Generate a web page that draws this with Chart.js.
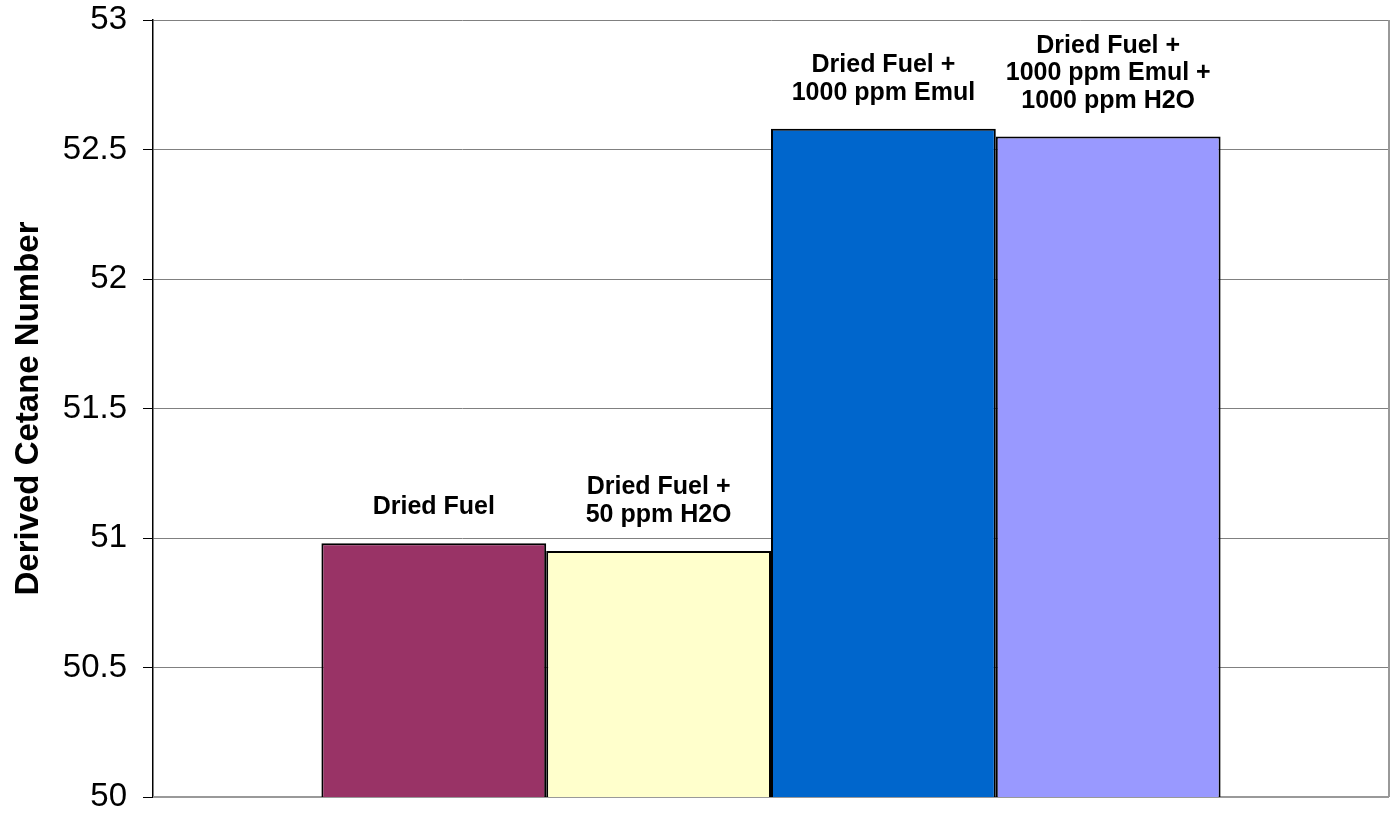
<!DOCTYPE html>
<html>
<head>
<meta charset="utf-8">
<title>Derived Cetane Number</title>
<script src="https://cdn.jsdelivr.net/npm/chart.js@4.4.1/dist/chart.umd.min.js"></script>
<style>
  html, body { margin: 0; padding: 0; background: #fff; }
  #cetaneChart { display: block; }
</style>
</head>
<body>
<canvas id="cetaneChart" width="1395" height="817"></canvas>
<script>
// DATA
const fuelNames = ['Dried Fuel', 'Dried Fuel + 50 ppm H2O', 'Dried Fuel + 1000 ppm Emul', 'Dried Fuel + 1000 ppm Emul + 1000 ppm H2O'];
const fuelLabelLines = [
    ['Dried Fuel'],
    ['Dried Fuel +', '50 ppm H2O'],
    ['Dried Fuel +', '1000 ppm Emul'],
    ['Dried Fuel +', '1000 ppm Emul +', '1000 ppm H2O']
];
const cetaneValues = [50.98, 50.95, 52.58, 52.55];
const barColors = ['#993366', '#FFFFCC', '#0066CC', '#9999FF'];
const yTicks = [50, 50.5, 51, 51.5, 52, 52.5, 53];

const FONT = 'Liberation Sans, Arial, Helvetica, sans-serif';

// one category, one dataset per fuel so the bars sit side by side
const datasets = fuelNames.map(function (name, i) {
    return {
        label: name,
        data: [cetaneValues[i]],
        backgroundColor: barColors[i],
        borderColor: '#000000',
        borderWidth: 2,
        categoryPercentage: 0.7275,
        barPercentage: 1.0
    };
});

// gray frame on the right side of the plot
const plotFrame = {
    id: 'plotFrame',
    beforeDatasetsDraw: function (chart) {
        const a = chart.chartArea;
        const c = chart.ctx;
        c.save();
        c.strokeStyle = '#999999';
        c.lineWidth = 2;
        c.beginPath();
        c.moveTo(a.right, a.top);
        c.lineTo(a.right, a.bottom);
        c.moveTo(a.left, a.bottom);
        c.lineTo(a.right, a.bottom);
        c.stroke();
        c.restore();
    }
};

// bold captions above each bar
const barCaptions = {
    id: 'barCaptions',
    afterDatasetsDraw: function (chart) {
        const c = chart.ctx;
        c.save();
        c.font = 'bold 25px ' + FONT;
        c.fillStyle = '#000000';
        c.textAlign = 'center';
        c.textBaseline = 'alphabetic';
        chart.data.datasets.forEach(function (ds, i) {
            const bar = chart.getDatasetMeta(i).data[0];
            const lines = fuelLabelLines[i];
            const base = bar.y - 29;
            for (let k = 0; k < lines.length; k++) {
                const y = base - (lines.length - 1 - k) * 27.5;
                c.fillText(lines[k], bar.x, y);
            }
        });
        c.restore();
    }
};

var ctx = document.getElementById('cetaneChart');

var myChart = new Chart(ctx, {
    type: 'bar',
    data: {
        labels: [''],
        datasets: datasets
    },
    options: {
        responsive: false,
        animation: false,
        layout: {
            padding: { top: 20, right: 6, bottom: 20, left: 0 }
        },
        plugins: {
            legend: { display: false },
            tooltip: { enabled: false }
        },
        scales: {
            x: {
                display: false
            },
            y: {
                min: 50,
                max: 53,
                afterBuildTicks: function (scale) {
                    scale.ticks = yTicks.map(function (v) { return { value: v }; });
                },
                afterFit: function (scale) {
                    scale.width = 153;
                    // keep the plot edges at the layout padding
                    scale.paddingTop = 0;
                    scale.paddingBottom = 0;
                },
                ticks: {
                    padding: 16,
                    color: '#000000',
                    font: { family: FONT, size: 33 },
                    callback: function (v) { return String(v); }
                },
                grid: {
                    color: '#808080',
                    lineWidth: 1,
                    tickLength: 10,
                    tickColor: '#000000'
                },
                border: {
                    color: '#000000',
                    width: 1.5
                },
                title: {
                    display: true,
                    text: 'Derived Cetane Number',
                    color: '#000000',
                    font: { family: FONT, size: 33, weight: 'bold' },
                    padding: { top: 9, bottom: 0 }
                }
            }
        }
    },
    plugins: [plotFrame, barCaptions]
});
</script>
</body>
</html>
